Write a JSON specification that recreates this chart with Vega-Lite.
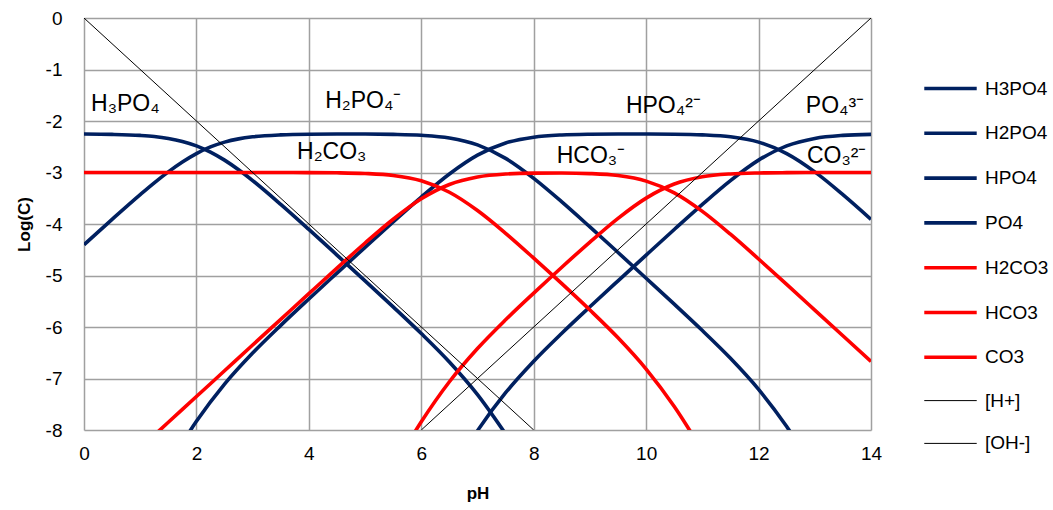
{
  "$schema": "https://vega.github.io/schema/vega-lite/v6.json",
  "width": 787,
  "height": 412,
  "autosize": {"type": "none"},
  "padding": {"left": 84, "top": 18, "right": 182, "bottom": 80},
  "background": "white",
  "config": {
    "font": "Liberation Sans",
    "view": {"stroke": null},
    "axis": {
      "domain": false,
      "ticks": false,
      "grid": true,
      "gridColor": "#A0A0A0",
      "gridWidth": 1.5,
      "labelFlush": false,
      "labelFont": "Liberation Sans",
      "labelFontSize": 19,
      "labelColor": "#000000",
      "titleFont": "Liberation Sans",
      "titleFontSize": 17,
      "titleFontWeight": "bold",
      "titleColor": "#000000"
    }
  },
  "datasets": {
    "curves": [
      {"s": "H3PO4", "pH": 0, "c": -2.253}, {"s": "H3PO4", "pH": 0.5, "c": -2.26}, {"s": "H3PO4", "pH": 1, "c": -2.28},
      {"s": "H3PO4", "pH": 1.25, "c": -2.301}, {"s": "H3PO4", "pH": 1.5, "c": -2.338}, {"s": "H3PO4", "pH": 1.75, "c": -2.396},
      {"s": "H3PO4", "pH": 2, "c": -2.482}, {"s": "H3PO4", "pH": 2.25, "c": -2.604}, {"s": "H3PO4", "pH": 2.5, "c": -2.76},
      {"s": "H3PO4", "pH": 2.75, "c": -2.947}, {"s": "H3PO4", "pH": 3, "c": -3.157}, {"s": "H3PO4", "pH": 3.5, "c": -3.619},
      {"s": "H3PO4", "pH": 4, "c": -4.106}, {"s": "H3PO4", "pH": 4.5, "c": -4.603}, {"s": "H3PO4", "pH": 5, "c": -5.103},
      {"s": "H3PO4", "pH": 5.5, "c": -5.609}, {"s": "H3PO4", "pH": 6, "c": -6.127}, {"s": "H3PO4", "pH": 6.5, "c": -6.679},
      {"s": "H3PO4", "pH": 7, "c": -7.313}, {"s": "H3PO4", "pH": 7.5, "c": -8.076},

      {"s": "H2PO4", "pH": 0, "c": -4.403}, {"s": "H2PO4", "pH": 0.5, "c": -3.91}, {"s": "H2PO4", "pH": 1, "c": -3.43},
      {"s": "H2PO4", "pH": 1.25, "c": -3.201}, {"s": "H2PO4", "pH": 1.5, "c": -2.988}, {"s": "H2PO4", "pH": 1.75, "c": -2.796},
      {"s": "H2PO4", "pH": 2, "c": -2.632}, {"s": "H2PO4", "pH": 2.25, "c": -2.504}, {"s": "H2PO4", "pH": 2.5, "c": -2.41},
      {"s": "H2PO4", "pH": 2.75, "c": -2.347}, {"s": "H2PO4", "pH": 3, "c": -2.307}, {"s": "H2PO4", "pH": 3.5, "c": -2.269},
      {"s": "H2PO4", "pH": 4, "c": -2.256}, {"s": "H2PO4", "pH": 4.5, "c": -2.253}, {"s": "H2PO4", "pH": 5, "c": -2.253},
      {"s": "H2PO4", "pH": 5.5, "c": -2.259}, {"s": "H2PO4", "pH": 6, "c": -2.277}, {"s": "H2PO4", "pH": 6.5, "c": -2.329},
      {"s": "H2PO4", "pH": 7, "c": -2.463}, {"s": "H2PO4", "pH": 7.5, "c": -2.726}, {"s": "H2PO4", "pH": 8, "c": -3.114},
      {"s": "H2PO4", "pH": 8.5, "c": -3.571}, {"s": "H2PO4", "pH": 9, "c": -4.057}, {"s": "H2PO4", "pH": 9.5, "c": -4.553},
      {"s": "H2PO4", "pH": 10, "c": -5.053}, {"s": "H2PO4", "pH": 10.5, "c": -5.556}, {"s": "H2PO4", "pH": 11, "c": -6.069},
      {"s": "H2PO4", "pH": 11.5, "c": -6.607}, {"s": "H2PO4", "pH": 12, "c": -7.21}, {"s": "H2PO4", "pH": 12.5, "c": -7.933},
      {"s": "H2PO4", "pH": 13, "c": -8.788},

      {"s": "HPO4", "pH": 1.5, "c": -8.688}, {"s": "HPO4", "pH": 2, "c": -7.832}, {"s": "HPO4", "pH": 2.5, "c": -7.11},
      {"s": "HPO4", "pH": 3, "c": -6.507}, {"s": "HPO4", "pH": 3.5, "c": -5.969}, {"s": "HPO4", "pH": 4, "c": -5.456},
      {"s": "HPO4", "pH": 4.5, "c": -4.953}, {"s": "HPO4", "pH": 5, "c": -4.453}, {"s": "HPO4", "pH": 5.5, "c": -3.959},
      {"s": "HPO4", "pH": 6, "c": -3.477}, {"s": "HPO4", "pH": 6.5, "c": -3.029}, {"s": "HPO4", "pH": 7, "c": -2.663},
      {"s": "HPO4", "pH": 7.5, "c": -2.426}, {"s": "HPO4", "pH": 8, "c": -2.314}, {"s": "HPO4", "pH": 8.5, "c": -2.271},
      {"s": "HPO4", "pH": 9, "c": -2.257}, {"s": "HPO4", "pH": 9.5, "c": -2.253}, {"s": "HPO4", "pH": 10, "c": -2.253},
      {"s": "HPO4", "pH": 10.5, "c": -2.256}, {"s": "HPO4", "pH": 11, "c": -2.269}, {"s": "HPO4", "pH": 11.5, "c": -2.307},
      {"s": "HPO4", "pH": 12, "c": -2.41}, {"s": "HPO4", "pH": 12.5, "c": -2.633}, {"s": "HPO4", "pH": 13, "c": -2.988},
      {"s": "HPO4", "pH": 13.5, "c": -3.43}, {"s": "HPO4", "pH": 14, "c": -3.91},

      {"s": "PO4", "pH": 6.5, "c": -8.879}, {"s": "PO4", "pH": 7, "c": -8.013}, {"s": "PO4", "pH": 7.5, "c": -7.276},
      {"s": "PO4", "pH": 8, "c": -6.664}, {"s": "PO4", "pH": 8.5, "c": -6.121}, {"s": "PO4", "pH": 9, "c": -5.607},
      {"s": "PO4", "pH": 9.5, "c": -5.103}, {"s": "PO4", "pH": 10, "c": -4.603}, {"s": "PO4", "pH": 10.5, "c": -4.106},
      {"s": "PO4", "pH": 11, "c": -3.619}, {"s": "PO4", "pH": 11.5, "c": -3.157}, {"s": "PO4", "pH": 12, "c": -2.76},
      {"s": "PO4", "pH": 12.5, "c": -2.483}, {"s": "PO4", "pH": 13, "c": -2.338}, {"s": "PO4", "pH": 13.5, "c": -2.28},
      {"s": "PO4", "pH": 14, "c": -2.26},

      {"s": "H2CO3", "pH": 0, "c": -3.0}, {"s": "H2CO3", "pH": 1, "c": -3.0}, {"s": "H2CO3", "pH": 2, "c": -3.0},
      {"s": "H2CO3", "pH": 3, "c": -3.0}, {"s": "H2CO3", "pH": 3.5, "c": -3.001}, {"s": "H2CO3", "pH": 4, "c": -3.002},
      {"s": "H2CO3", "pH": 4.5, "c": -3.006}, {"s": "H2CO3", "pH": 5, "c": -3.019}, {"s": "H2CO3", "pH": 5.5, "c": -3.057},
      {"s": "H2CO3", "pH": 6, "c": -3.16}, {"s": "H2CO3", "pH": 6.5, "c": -3.383}, {"s": "H2CO3", "pH": 7, "c": -3.738},
      {"s": "H2CO3", "pH": 7.5, "c": -4.18}, {"s": "H2CO3", "pH": 8, "c": -4.662}, {"s": "H2CO3", "pH": 8.5, "c": -5.159},
      {"s": "H2CO3", "pH": 9, "c": -5.671}, {"s": "H2CO3", "pH": 9.5, "c": -6.21}, {"s": "H2CO3", "pH": 10, "c": -6.817},
      {"s": "H2CO3", "pH": 10.5, "c": -7.544}, {"s": "H2CO3", "pH": 11, "c": -8.404},

      {"s": "HCO3", "pH": 1, "c": -8.35}, {"s": "HCO3", "pH": 1.5, "c": -7.85}, {"s": "HCO3", "pH": 2, "c": -7.35},
      {"s": "HCO3", "pH": 2.5, "c": -6.85}, {"s": "HCO3", "pH": 3, "c": -6.35}, {"s": "HCO3", "pH": 3.5, "c": -5.851},
      {"s": "HCO3", "pH": 4, "c": -5.352}, {"s": "HCO3", "pH": 4.5, "c": -4.856}, {"s": "HCO3", "pH": 5, "c": -4.369},
      {"s": "HCO3", "pH": 5.5, "c": -3.907}, {"s": "HCO3", "pH": 6, "c": -3.51}, {"s": "HCO3", "pH": 6.5, "c": -3.233},
      {"s": "HCO3", "pH": 7, "c": -3.088}, {"s": "HCO3", "pH": 7.5, "c": -3.03}, {"s": "HCO3", "pH": 8, "c": -3.012},
      {"s": "HCO3", "pH": 8.5, "c": -3.009}, {"s": "HCO3", "pH": 9, "c": -3.021}, {"s": "HCO3", "pH": 9.5, "c": -3.06},
      {"s": "HCO3", "pH": 10, "c": -3.167}, {"s": "HCO3", "pH": 10.5, "c": -3.394}, {"s": "HCO3", "pH": 11, "c": -3.754},
      {"s": "HCO3", "pH": 11.5, "c": -4.198}, {"s": "HCO3", "pH": 12, "c": -4.679}, {"s": "HCO3", "pH": 12.5, "c": -5.173},
      {"s": "HCO3", "pH": 13, "c": -5.671}, {"s": "HCO3", "pH": 13.5, "c": -6.17}, {"s": "HCO3", "pH": 14, "c": -6.67},

      {"s": "CO3", "pH": 5.5, "c": -8.737}, {"s": "CO3", "pH": 6, "c": -7.84}, {"s": "CO3", "pH": 6.5, "c": -7.063},
      {"s": "CO3", "pH": 7, "c": -6.418}, {"s": "CO3", "pH": 7.5, "c": -5.86}, {"s": "CO3", "pH": 8, "c": -5.342},
      {"s": "CO3", "pH": 8.5, "c": -4.839}, {"s": "CO3", "pH": 9, "c": -4.351}, {"s": "CO3", "pH": 9.5, "c": -3.89},
      {"s": "CO3", "pH": 10, "c": -3.497}, {"s": "CO3", "pH": 10.5, "c": -3.224}, {"s": "CO3", "pH": 11, "c": -3.084},
      {"s": "CO3", "pH": 11.5, "c": -3.028}, {"s": "CO3", "pH": 12, "c": -3.009}, {"s": "CO3", "pH": 12.5, "c": -3.003},
      {"s": "CO3", "pH": 13, "c": -3.001}, {"s": "CO3", "pH": 13.5, "c": -3.0}, {"s": "CO3", "pH": 14, "c": -3.0},

      {"s": "[H+]", "pH": 0, "c": 0}, {"s": "[H+]", "pH": 8, "c": -8},
      {"s": "[OH-]", "pH": 6, "c": -8}, {"s": "[OH-]", "pH": 14, "c": 0}
    ],
    "labels": [
      {"t": "H₃PO₄", "pH": 0.125, "c": -1.806},
      {"t": "H₂PO₄⁻", "pH": 4.29, "c": -1.75},
      {"t": "HPO₄²⁻", "pH": 9.64, "c": -1.845},
      {"t": "PO₄³⁻", "pH": 12.84, "c": -1.845},
      {"t": "H₂CO₃", "pH": 3.79, "c": -2.74},
      {"t": "HCO₃⁻", "pH": 8.41, "c": -2.816},
      {"t": "CO₃²⁻", "pH": 12.86, "c": -2.816}
    ]
  },
  "layer": [
    {
      "data": {"name": "curves"},
      "mark": {"type": "line", "interpolate": "monotone", "clip": true},
      "encoding": {
        "x": {
          "field": "pH", "type": "quantitative",
          "scale": {"domain": [0, 14], "nice": false},
          "axis": {"values": [0, 2, 4, 6, 8, 10, 12, 14], "format": "d", "title": "pH", "labelPadding": 14, "titlePadding": 22}
        },
        "y": {
          "field": "c", "type": "quantitative",
          "scale": {"domain": [-8, 0], "nice": false},
          "axis": {"values": [0, -1, -2, -3, -4, -5, -6, -7, -8], "labelExpr": "replace(datum.label, '−', '-')", "title": "Log(C)", "labelPadding": 22, "titlePadding": 12}
        },
        "color": {
          "field": "s", "type": "nominal",
          "scale": {
            "domain": ["H3PO4", "H2PO4", "HPO4", "PO4", "H2CO3", "HCO3", "CO3", "[H+]", "[OH-]"],
            "range": ["#002060", "#002060", "#002060", "#002060", "#FF0000", "#FF0000", "#FF0000", "#000000", "#000000"]
          },
          "legend": {
            "title": null, "orient": "none", "legendX": 838, "legendY": 42,
            "symbolType": "stroke", "symbolSize": 2750, "labelFontSize": 19, "labelColor": "#000000",
            "labelFont": "Liberation Sans", "rowPadding": 5.8, "labelOffset": 6
          }
        },
        "strokeWidth": {
          "field": "s", "type": "nominal",
          "scale": {
            "type": "ordinal",
            "domain": ["H3PO4", "H2PO4", "HPO4", "PO4", "H2CO3", "HCO3", "CO3", "[H+]", "[OH-]"],
            "range": [3.6, 3.6, 3.6, 3.6, 3.6, 3.6, 3.6, 1, 1]
          },
          "legend": {
            "title": null, "orient": "none", "legendX": 838, "legendY": 42,
            "symbolType": "stroke", "symbolSize": 2750, "labelFontSize": 19, "labelColor": "#000000",
            "labelFont": "Liberation Sans", "rowPadding": 5.8, "labelOffset": 6
          }
        }
      }
    },
    {
      "data": {"name": "labels"},
      "mark": {"type": "text", "align": "left", "baseline": "alphabetic", "fontSize": 23, "font": "Liberation Sans", "color": "#000000"},
      "encoding": {
        "x": {"field": "pH", "type": "quantitative"},
        "y": {"field": "c", "type": "quantitative"},
        "text": {"field": "t", "type": "nominal"}
      }
    }
  ]
}
